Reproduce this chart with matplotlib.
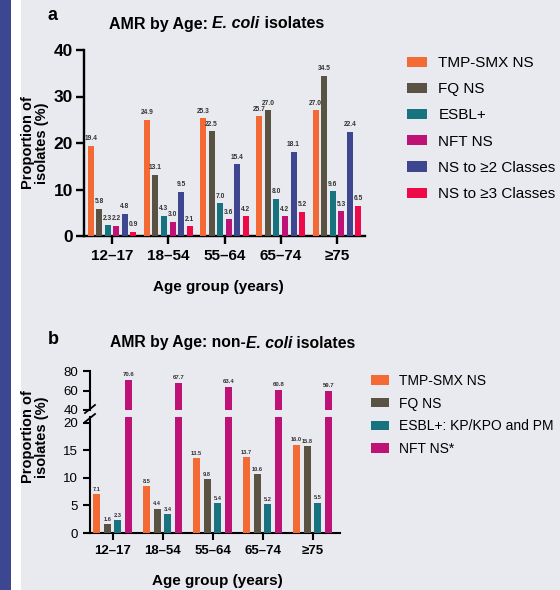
import matplotlib
matplotlib.use("Agg")
import matplotlib.pyplot as plt
from matplotlib.patches import Rectangle
from matplotlib.lines import Line2D
import numpy as np

plt.rcParams['font.family'] = ['Liberation Sans', 'DejaVu Sans']

# ---------------- data ----------------
age_groups = ["12–17", "18–54", "55–64", "65–74", "≥75"]

a_series = ["TMP-SMX NS", "FQ NS", "ESBL+", "NFT NS", "NS to ≥2 Classes", "NS to ≥3 Classes"]
a_tmp = [19.4, 24.9, 25.3, 25.7, 27.0]
a_fq = [5.8, 13.1, 22.5, 27.0, 34.5]
a_esbl = [2.3, 4.3, 7.0, 8.0, 9.6]
a_nft = [2.2, 3.0, 3.6, 4.2, 5.3]
a_ns2 = [4.8, 9.5, 15.4, 18.1, 22.4]
a_ns3 = [0.9, 2.1, 4.2, 5.2, 6.5]

b_series = ["TMP-SMX NS", "FQ NS", "ESBL+: KP/KPO and PM", "NFT NS*"]
b_tmp = [7.1, 8.5, 13.5, 13.7, 16.0]
b_fq = [1.6, 4.4, 9.8, 10.6, 15.8]
b_esbl = [2.3, 3.4, 5.4, 5.2, 5.5]
b_nft = [70.6, 67.7, 63.4, 60.8, 59.7]

c_orange = "#F46A34"
c_brown = "#5A5242"
c_teal = "#17737E"
c_magenta = "#BE1277"
c_navy = "#3E4690"
c_red = "#EE0A48"
a_colors = [c_orange, c_brown, c_teal, c_magenta, c_navy, c_red]
b_colors = [c_orange, c_brown, c_teal, c_magenta]

BG = "#E9E9F0"
W, H = 560, 590
fig = plt.figure(figsize=(W / 100, H / 100), dpi=100)
fig.patch.set_facecolor(BG)
fig.patches.append(Rectangle((0, 0), 11 / W, 1, transform=fig.transFigure,
                             facecolor="#3C4691", edgecolor="none", zorder=-5))
fig.patches.append(Rectangle((11 / W, 0), 10 / W, 1, transform=fig.transFigure,
                             facecolor="white", edgecolor="none", zorder=-5))


def ax_px(left, top, right, bottom):
    return fig.add_axes([left / W, 1 - bottom / H, (right - left) / W, (bottom - top) / H])


def style(ax, lw=1.5, tl=5):
    ax.set_facecolor("none")
    for s in ["top", "right"]:
        ax.spines[s].set_visible(False)
    for s in ["left", "bottom"]:
        ax.spines[s].set_linewidth(lw)
        ax.spines[s].set_color("black")
    ax.tick_params(width=lw, length=tl, color="black")


def fx(px):
    return px / W


def fy(py):
    return 1 - py / H


renderer = fig.canvas.get_renderer()


def rich(x_px, y_px, parts, size):
    x = x_px
    for txt, st in parts:
        t = fig.text(fx(x), fy(y_px), txt, fontsize=size, fontweight="bold",
                     fontstyle=st, va="center", ha="left")
        bb = t.get_window_extent(renderer=renderer)
        x += bb.width


# ---------------- panel a ----------------
x = np.arange(len(age_groups))
axa = ax_px(84, 50, 365, 236)
style(axa, lw=1.7, tl=6)
a_vals = [a_tmp, a_fq, a_esbl, a_nft, a_ns2, a_ns3]
pitch_a, width_a = 0.152, 0.107
a_handles = []
for i, (vals, col, name) in enumerate(zip(a_vals, a_colors, a_series)):
    pos = x + (i - 2.5) * pitch_a
    bars = axa.bar(pos, vals, width=width_a, color=col, label=name, zorder=3)
    a_handles.append(bars)
    for p, v in zip(pos, vals):
        axa.text(p, v + 0.8, f"{v:.1f}", ha="center", va="bottom", fontsize=4.8,
                 fontweight="bold", color="#333333")
axa.set_xlim(-0.5, 4.5)
axa.set_ylim(0, 40)
axa.set_yticks([0, 10, 20, 30, 40])
axa.set_xticks(x)
axa.set_xticklabels(age_groups, fontsize=11, fontweight="bold")
for lab in axa.get_yticklabels():
    lab.set_fontsize(12.5)
    lab.set_fontweight("bold")
axa.tick_params(axis="x", pad=3)
axa.tick_params(axis="y", pad=2)

fig.text(fx(35), fy(143), "Proportion of\nisolates (%)", rotation=90, ha="center",
         va="center", fontsize=10.5, fontweight="bold", linespacing=1.05)
fig.text(fx(218), fy(287), "Age group (years)", ha="center", va="center",
         fontsize=11, fontweight="bold")
fig.text(fx(48), fy(15), "a", ha="left", va="center", fontsize=13, fontweight="bold")
rich(109, 24, [("AMR by Age: ", "normal"), ("E. coli", "italic"), (" isolates", "normal")], 11.5)

fig.legend(handles=a_handles, labels=a_series, loc="upper left",
           bbox_to_anchor=(fx(407), fy(56)), frameon=False, fontsize=11,
           handlelength=1.3, handleheight=0.65, labelspacing=0.8, handletextpad=0.75,
           borderaxespad=0, borderpad=0)

# ---------------- panel b ----------------
pitch_b, width_b = 0.214, 0.14
b_vals = [b_tmp, b_fq, b_esbl, b_nft]
axu = ax_px(90, 371, 340, 410)
axl = ax_px(90, 417, 340, 533)
style(axu)
style(axl)
axu.spines["bottom"].set_visible(False)
axu.tick_params(axis="x", bottom=False, labelbottom=False)
b_handles = []
for i, (vals, col, name) in enumerate(zip(b_vals, b_colors, b_series)):
    pos = x + (i - 1.5) * pitch_b
    bl = axl.bar(pos, vals, width=width_b, color=col, label=name, zorder=3)
    axu.bar(pos, vals, width=width_b, color=col, zorder=3)
    b_handles.append(bl)
    for p, v in zip(pos, vals):
        if v > 20:
            axu.text(p, v + 3, f"{v:.1f}", ha="center", va="bottom", fontsize=4.3,
                     fontweight="bold", color="#333333")
        else:
            axl.text(p, v + 0.4, f"{v:.1f}", ha="center", va="bottom", fontsize=4.1,
                     fontweight="bold", color="#333333")
for ax in (axu, axl):
    ax.set_xlim(-0.45, 4.55)
axu.set_ylim(40, 80)
axu.set_yticks([40, 60, 80])
axl.set_ylim(0, 21)
axl.set_yticks([0, 5, 10, 15, 20])
axl.set_xticks(x)
axl.set_xticklabels(age_groups, fontsize=9.5, fontweight="bold")
for ax in (axu, axl):
    for lab in ax.get_yticklabels():
        lab.set_fontsize(9.5)

# break marks
for (yp) in (409, 418):
    fig.add_artist(Line2D([fx(85), fx(95)], [fy(yp + 4), fy(yp - 4)],
                          transform=fig.transFigure, color="black", lw=1.3))

fig.text(fx(35), fy(437), "Proportion of\nisolates (%)", rotation=90, ha="center",
         va="center", fontsize=10.5, fontweight="bold", linespacing=1.05)
fig.text(fx(217), fy(581), "Age group (years)", ha="center", va="center",
         fontsize=11, fontweight="bold")
fig.text(fx(48), fy(340), "b", ha="left", va="center", fontsize=13, fontweight="bold")
rich(110, 343, [("AMR by Age: non-", "normal"), ("E. coli", "italic"), (" isolates", "normal")], 11.3)

fig.legend(handles=b_handles, labels=b_series, loc="upper left",
           bbox_to_anchor=(fx(371), fy(374)), frameon=False, fontsize=10,
           handlelength=1.3, handleheight=0.65, labelspacing=0.62, handletextpad=0.75,
           borderaxespad=0, borderpad=0)

fig.savefig("out.png", dpi=100, facecolor=BG)
